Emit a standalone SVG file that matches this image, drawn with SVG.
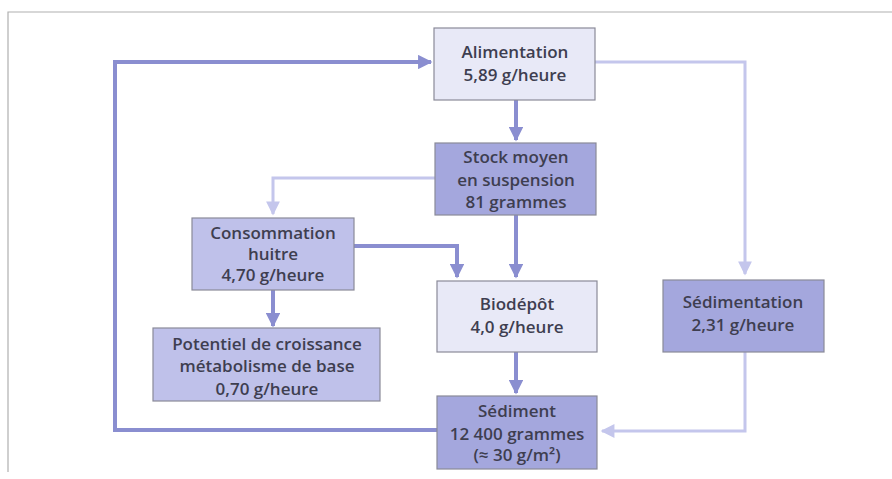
<svg xmlns="http://www.w3.org/2000/svg" width="892" height="479" viewBox="0 0 892 479">
<style>
.box{stroke:#8a8a98;stroke-width:1.2}
.light{fill:#e8e9f7}
.mid{fill:#bfc1ea}
.dark{fill:#a4a7dd}
text{font-family:"Open Sans",Lato,"Liberation Sans",sans-serif;font-weight:600;font-size:17px;text-anchor:middle;fill:#3e3e50}
.strong{fill:none;stroke:#8a8ed0;stroke-width:4}
.weak{fill:none;stroke:#c4c6ec;stroke-width:3}
</style>
<defs>
<marker id="ah" viewBox="0 0 10 10" refX="9" refY="5" markerWidth="4" markerHeight="3.6" markerUnits="strokeWidth" orient="auto">
<path d="M0,0 L10,5 L0,10 z" fill="#8a8ed0"/>
</marker>
<marker id="ahl" viewBox="0 0 10 10" refX="9" refY="5" markerWidth="5" markerHeight="4.6" markerUnits="strokeWidth" orient="auto">
<path d="M0,0 L10,5 L0,10 z" fill="#c4c6ec"/>
</marker>
</defs>
<rect width="892" height="479" fill="#ffffff"/>
<g id="frame" fill="none" stroke="#b0b0b0" stroke-width="1.2">
<path d="M8,472 L8,12 L892,12"/>
</g>
<g id="connectors">
<path class="strong" d="M437,430 L115,430 L115,62 L431,62" marker-end="url(#ah)"/>
<path class="strong" d="M516,100 L516,140" marker-end="url(#ah)"/>
<path class="strong" d="M516,215 L516,277" marker-end="url(#ah)"/>
<path class="strong" d="M354,246 L457,246 L457,277" marker-end="url(#ah)"/>
<path class="strong" d="M273,290 L273,326" marker-end="url(#ah)"/>
<path class="strong" d="M516,352 L516,393" marker-end="url(#ah)"/>
<path class="weak" d="M435,178 L273,178 L273,214" marker-end="url(#ahl)"/>
<path class="weak" d="M595,62 L745,62 L745,274" marker-end="url(#ahl)"/>
<path class="weak" d="M745,352 L745,431 L602,431" marker-end="url(#ahl)"/>
</g>
<g id="alimentation">
<rect class="box light" x="434" y="28" width="161" height="72"/>
<text x="515" y="58">Alimentation</text>
<text x="515" y="81">5,89 g/heure</text>
</g>
<g id="stock">
<rect class="box dark" x="435" y="143" width="161" height="72"/>
<text x="516" y="163">Stock moyen</text>
<text x="516" y="186">en suspension</text>
<text x="516" y="208">81 grammes</text>
</g>
<g id="consommation">
<rect class="box mid" x="192" y="218" width="162" height="72"/>
<text x="273" y="239">Consommation</text>
<text x="273" y="260">huitre</text>
<text x="273" y="281">4,70 g/heure</text>
</g>
<g id="biodepot">
<rect class="box light" x="437" y="281" width="160" height="71"/>
<text x="517" y="310">Biodépôt</text>
<text x="517" y="333">4,0 g/heure</text>
</g>
<g id="sedimentation">
<rect class="box dark" x="663" y="280" width="161" height="72"/>
<text x="743" y="308">Sédimentation</text>
<text x="743" y="331">2,31 g/heure</text>
</g>
<g id="potentiel">
<rect class="box mid" x="153" y="328" width="227" height="73"/>
<text x="267" y="350">Potentiel de croissance</text>
<text x="267" y="372">métabolisme de base</text>
<text x="267" y="395">0,70 g/heure</text>
</g>
<g id="sediment">
<rect class="box dark" x="437" y="396" width="160" height="73"/>
<text x="517" y="417">Sédiment</text>
<text x="517" y="440">12 400 grammes</text>
<text x="517" y="461">(≈ 30 g/m²)</text>
</g>
</svg>
